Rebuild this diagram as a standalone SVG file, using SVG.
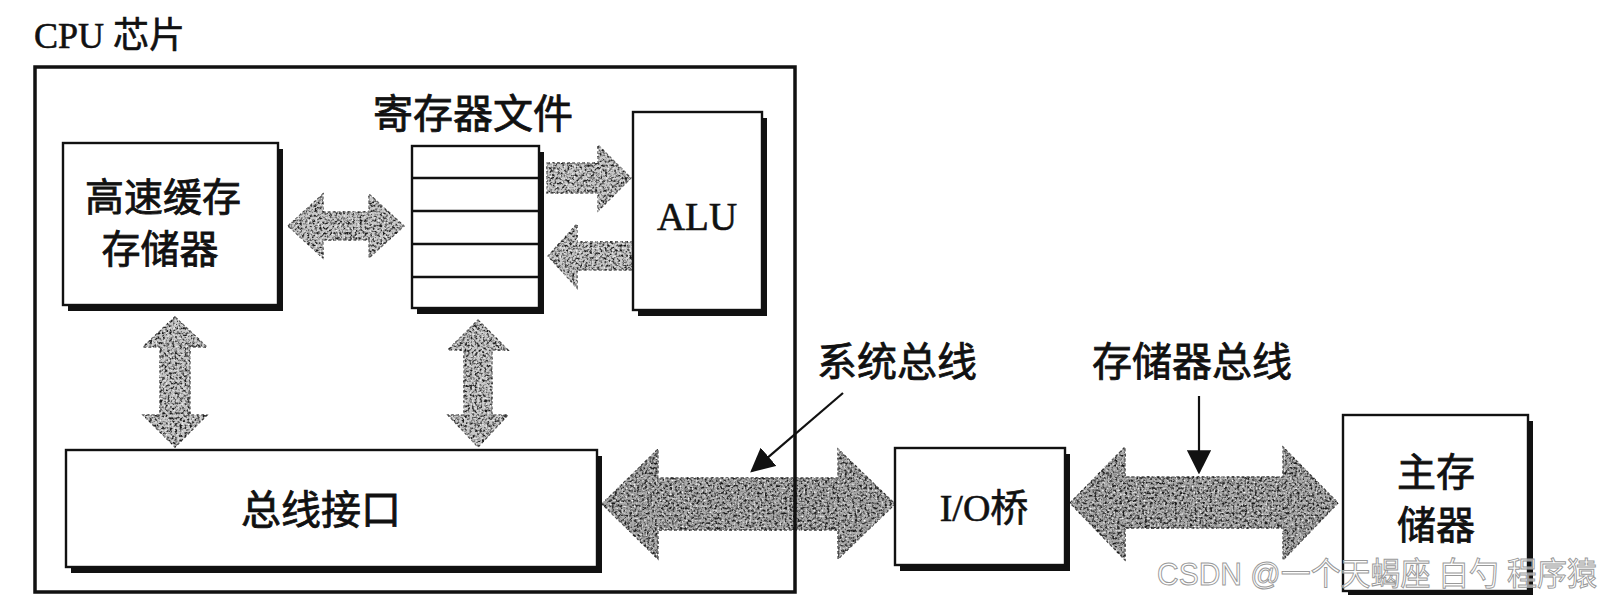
<svg xmlns="http://www.w3.org/2000/svg" width="1599" height="595" viewBox="0 0 1599 595">
<style>
  .box { fill: #fff; stroke: #111; stroke-width: 2.4; }
  .shadow { fill: #111; }
  .cjk { font-family: "Noto Sans CJK SC", "Noto Sans", sans-serif; fill: #111; stroke: #111; stroke-width: 0.8; }
  .ser { font-family: "Liberation Serif", "Noto Sans CJK SC", serif; fill: #111; stroke: #111; stroke-width: 0.6; }
  .blk { fill: #c6c6c6; stroke: #666; stroke-width: 1.3; stroke-dasharray: 3 2; filter: url(#grain); }
  .blkd { fill: #a8a8a8; stroke: #555; stroke-width: 1.3; stroke-dasharray: 3 2; filter: url(#grain); }
  .call { stroke: #111; stroke-width: 2.2; fill: none; }
  .wm { font-family: "Liberation Sans", "Noto Sans CJK SC", sans-serif; fill: #fff; fill-opacity: 0.6; stroke: #999; stroke-width: 1; }
</style>
<defs>
  <filter id="grain" x="-5%" y="-5%" width="110%" height="110%" color-interpolation-filters="sRGB">
    <feTurbulence type="fractalNoise" baseFrequency="0.4" numOctaves="2" seed="11" result="noise"/>
    <feColorMatrix in="noise" type="matrix" values="0 0 0 0 0.1  0 0 0 0 0.1  0 0 0 0 0.1  3.2 0 0 0 -1.4" result="specks"/>
    <feComposite in="specks" in2="SourceAlpha" operator="in" result="clip"/>
    <feTurbulence type="fractalNoise" baseFrequency="0.5" numOctaves="1" seed="3" result="noise2"/>
    <feColorMatrix in="noise2" type="matrix" values="0 0 0 0 1  0 0 0 0 1  0 0 0 0 1  3 0 0 0 -1.6" result="white"/>
    <feComposite in="white" in2="SourceAlpha" operator="in" result="clipw"/>
    <feMerge><feMergeNode in="SourceGraphic"/><feMergeNode in="clip"/><feMergeNode in="clipw"/></feMerge>
  </filter>
  <marker id="tipL" viewBox="0 0 10 10" refX="9" refY="5" markerWidth="11" markerHeight="11" orient="auto">
    <path d="M0,0 L10,5 L0,10 Z" fill="#111"/>
  </marker>
</defs>
<rect width="1599" height="595" fill="#fff"/>

<text class="ser" x="34" y="48" font-size="36">CPU 芯片</text>

<g id="connectors">
  <path class="blk" d="M288,226 L323,194 L323,212 L369,212 L369,194 L404,226 L369,258 L369,240 L323,240 L323,258 Z"/>
  <path class="blk" d="M547,163 L598,163 L598,145 L631,178 L598,211 L598,193 L547,193 Z"/>
  <path class="blk" d="M633,242 L577,242 L577,224 L548,256 L577,288 L577,270 L633,270 Z"/>
  <path class="blk" d="M175,317 L207,347 L190,347 L190,415 L207,415 L175,447 L143,415 L160,415 L160,347 L143,347 Z"/>
  <path class="blk" d="M478,320 L508,350 L492,350 L492,415 L508,415 L478,447 L448,415 L464,415 L464,350 L448,350 Z"/>
  <path class="blkd" d="M602,504 L658,449 L658,478 L838,478 L838,449 L895,504 L838,559 L838,530 L658,530 L658,559 Z"/>
  <path class="blkd" d="M1070,503 L1125,447 L1125,477 L1283,477 L1283,447 L1338,503 L1283,560 L1283,528 L1125,528 L1125,560 Z"/>
  <line class="call" x1="843" y1="393" x2="752" y2="471" marker-end="url(#tipL)"/>
  <line class="call" x1="1199" y1="396" x2="1199" y2="472" marker-end="url(#tipL)"/>
</g>

<g id="cpu-chip">
  <rect x="35" y="67" width="760" height="525" fill="none" stroke="#111" stroke-width="3.5"/>
</g>

<g id="register-file">
  <text class="cjk" x="473" y="128" font-size="40" text-anchor="middle">寄存器文件</text>
  <rect class="shadow" x="417" y="152" width="127" height="162"/>
  <rect class="box" x="412" y="146" width="127" height="162"/>
  <g stroke="#111" stroke-width="2.4">
    <line x1="412" y1="178" x2="539" y2="178"/>
    <line x1="412" y1="211" x2="539" y2="211"/>
    <line x1="412" y1="244" x2="539" y2="244"/>
    <line x1="412" y1="277" x2="539" y2="277"/>
  </g>
</g>

<g id="cache">
  <rect class="shadow" x="68" y="149" width="215" height="162"/>
  <rect class="box" x="63" y="143" width="215" height="162"/>
  <text class="cjk" x="163" y="211" font-size="39" text-anchor="middle">高速缓存</text>
  <text class="cjk" x="160" y="263" font-size="39" text-anchor="middle">存储器</text>
</g>

<g id="alu">
  <rect class="shadow" x="638" y="118" width="129" height="198"/>
  <rect class="box" x="633" y="112" width="129" height="198"/>
  <text class="ser" x="697" y="230" font-size="39" text-anchor="middle">ALU</text>
</g>

<g id="bus-interface">
  <rect class="shadow" x="71" y="456" width="531" height="117"/>
  <rect class="box" x="66" y="450" width="531" height="117"/>
  <text class="cjk" x="321" y="524" font-size="40" text-anchor="middle">总线接口</text>
</g>

<g id="io-bridge">
  <rect class="shadow" x="900" y="454" width="170" height="117"/>
  <rect class="box" x="895" y="448" width="170" height="117"/>
  <text class="ser" x="984" y="521" font-size="38" text-anchor="middle">I/O桥</text>
</g>

<g id="main-memory">
  <rect class="shadow" x="1348" y="421" width="185" height="180"/>
  <rect class="box" x="1343" y="415" width="185" height="176"/>
  <text class="cjk" x="1436" y="486" font-size="39" text-anchor="middle">主存</text>
  <text class="cjk" x="1436" y="539" font-size="39" text-anchor="middle">储器</text>
</g>

<g id="labels">
  <text class="cjk" x="897" y="376" font-size="40" text-anchor="middle">系统总线</text>
  <text class="cjk" x="1192" y="376" font-size="40" text-anchor="middle">存储器总线</text>
</g>

<g id="watermark">
  <text class="wm" x="1157" y="585" font-size="32" textLength="440" lengthAdjust="spacingAndGlyphs">CSDN @一个天蝎座 白勺 程序猿</text>
</g>
</svg>
